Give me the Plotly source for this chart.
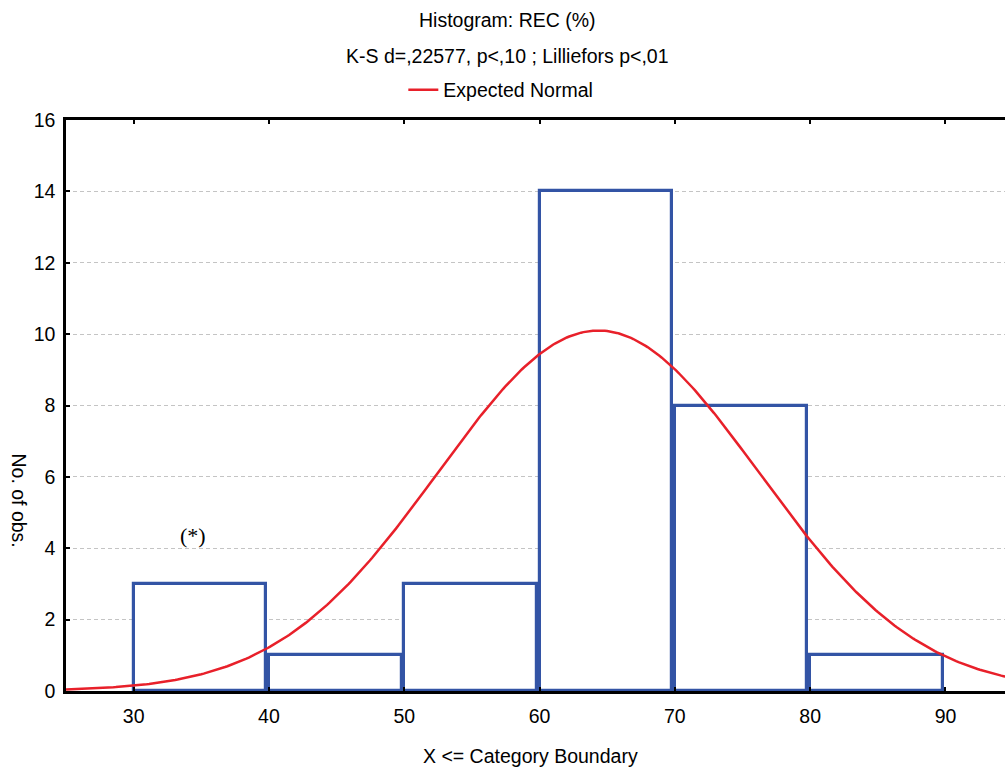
import numpy as np
import plotly.graph_objects as go

# Histogram bins (lower category boundary) and counts
bin_lower = [30, 40, 50, 60, 70, 80]
counts = [3, 1, 3, 14, 8, 1]
bin_width = 10

# Fitted normal parameters for the expected curve
norm_mean = 64.35
norm_sd = 11.85
n_obs = sum(counts)

x_ticks = [30, 40, 50, 60, 70, 80, 90]
y_ticks = [0, 2, 4, 6, 8, 10, 12, 14, 16]

xs = np.linspace(25, 95, 400)
ys = n_obs * bin_width * np.exp(-0.5 * ((xs - norm_mean) / norm_sd) ** 2) / (norm_sd * np.sqrt(2 * np.pi))

blue = "#3354A5"
red = "#E8202A"
font = "Liberation Sans, Arial, sans-serif"
fs = 19.5

# plot-area pixel frame, used to place text in paper coordinates
L, R, T, B = 65.5, 1005, 120, 691


def px(xp):
    return (xp - L) / (R - L)


def py(yp):
    return (B - yp) / (B - T)


fig = go.Figure()
fig.add_trace(go.Bar(
    x=bin_lower, y=counts, offset=0, width=bin_width * 0.98,
    marker=dict(color="white", line=dict(color=blue, width=3.2)),
    showlegend=False, hoverinfo="x+y",
))
fig.add_trace(go.Scatter(
    x=xs, y=ys, mode="lines", name="Expected Normal",
    line=dict(color=red, width=2.5),
))

fig.update_layout(
    width=1005, height=767,
    margin=dict(l=L, r=1005 - R, t=T, b=767 - B),
    paper_bgcolor="white", plot_bgcolor="white",
    font=dict(family=font, size=fs, color="black"),
    bargap=0,
    legend=dict(
        x=px(403), xanchor="left",
        y=py(90), yanchor="middle",
        orientation="h", font=dict(size=fs),
        bgcolor="rgba(0,0,0,0)",
    ),
    annotations=[
        dict(text="Histogram: REC (%)", xref="paper", yref="paper",
             x=px(507), y=py(20), xanchor="center", yanchor="middle",
             showarrow=False),
        dict(text="K-S d=,22577, p<,10 ; Lilliefors p<,01", xref="paper", yref="paper",
             x=px(507), y=py(56), xanchor="center", yanchor="middle",
             showarrow=False),
        dict(text="X <= Category Boundary", xref="paper", yref="paper",
             x=px(530), y=py(756), xanchor="center", yanchor="middle",
             showarrow=False),
        dict(text="No. of obs.", xref="paper", yref="paper",
             x=px(18), y=py(500), xanchor="center", yanchor="middle",
             textangle=90, showarrow=False),
        dict(text="(*)", x=34.4, y=4.35, xref="x", yref="y", showarrow=False,
             font=dict(family="Liberation Serif, Times New Roman, serif", size=22)),
    ],
)

fig.update_xaxes(
    range=[25, 94.4], tickvals=x_ticks, ticks="inside", ticklen=4, tickwidth=2,
    tickcolor="black", showline=True, linecolor="black", linewidth=2.5,
    mirror="ticks", showgrid=False, zeroline=False, ticklabelstandoff=6,
)
fig.update_yaxes(
    range=[0, 16], tickvals=y_ticks, ticks="inside", ticklen=4, tickwidth=2,
    tickcolor="black", showline=True, linecolor="black", linewidth=2.5,
    mirror=False, showgrid=True, gridcolor="#c4c4c4", griddash="4px,3px",
    gridwidth=1, zeroline=False, ticklabelstandoff=4,
)

fig.write_html("out.html")
